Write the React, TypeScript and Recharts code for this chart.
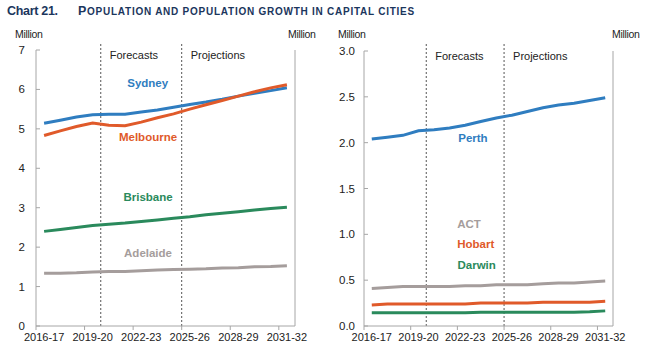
import React from 'react';
import { LineChart, Line, XAxis, YAxis, ReferenceLine, ReferenceDot } from 'recharts';

const periods = ['2016-17','2017-18','2018-19','2019-20','2020-21','2021-22','2022-23','2023-24','2024-25','2025-26','2026-27','2027-28','2028-29','2029-30','2030-31','2031-32'];

const sydney = [5.14, 5.22, 5.30, 5.36, 5.37, 5.37, 5.43, 5.48, 5.55, 5.62, 5.68, 5.75, 5.83, 5.90, 5.97, 6.04];
const melbourne = [4.83, 4.95, 5.06, 5.15, 5.09, 5.08, 5.17, 5.28, 5.38, 5.50, 5.61, 5.72, 5.83, 5.94, 6.04, 6.12];
const brisbane = [2.40, 2.45, 2.50, 2.55, 2.58, 2.61, 2.65, 2.69, 2.73, 2.77, 2.82, 2.86, 2.90, 2.94, 2.98, 3.01];
const adelaide = [1.34, 1.34, 1.35, 1.37, 1.38, 1.38, 1.40, 1.42, 1.43, 1.44, 1.45, 1.47, 1.48, 1.50, 1.51, 1.53];

const perth = [2.04, 2.06, 2.08, 2.13, 2.14, 2.16, 2.19, 2.23, 2.27, 2.30, 2.34, 2.38, 2.41, 2.43, 2.46, 2.49];
const act = [0.41, 0.42, 0.43, 0.43, 0.43, 0.43, 0.44, 0.44, 0.45, 0.45, 0.45, 0.46, 0.47, 0.47, 0.48, 0.49];
const hobart = [0.23, 0.24, 0.24, 0.24, 0.24, 0.24, 0.24, 0.25, 0.25, 0.25, 0.25, 0.26, 0.26, 0.26, 0.26, 0.27];
const darwin = [0.145, 0.145, 0.145, 0.145, 0.145, 0.145, 0.145, 0.15, 0.15, 0.15, 0.15, 0.15, 0.15, 0.15, 0.155, 0.165];

const leftTicks = [0, 1, 2, 3, 4, 5, 6, 7];
const rightTicks = [0, 0.5, 1, 1.5, 2, 2.5, 3];
const xLabelIdx = [0, 3, 6, 9, 12, 15];
const forecastStart = 3.5;
const projectionStart = 8.5;

const titleText = 'POPULATION AND POPULATION GROWTH IN CAPITAL CITIES';

const leftLabels = [
  { name: 'Sydney', x: 6.4, y: 6.16, key: 'sydney' },
  { name: 'Melbourne', x: 6.42, y: 4.79, key: 'melbourne' },
  { name: 'Brisbane', x: 6.42, y: 3.27, key: 'brisbane' },
  { name: 'Adelaide', x: 6.42, y: 1.86, key: 'adelaide' },
];
const rightLabels = [
  { name: 'Perth', x: 6.5, y: 2.05, key: 'perth' },
  { name: 'ACT', x: 6.25, y: 1.11, key: 'act' },
  { name: 'Hobart', x: 6.68, y: 0.89, key: 'hobart' },
  { name: 'Darwin', x: 6.74, y: 0.67, key: 'darwin' },
];

const COLORS: Record<string, string> = {
  sydney: '#2f7dc0',
  melbourne: '#e05a2a',
  brisbane: '#2a8a5c',
  adelaide: '#a59d9c',
  perth: '#2f7dc0',
  act: '#a59d9c',
  hobart: '#e05a2a',
  darwin: '#2a8a5c',
};

const leftData = periods.map((p, i) => ({ i, period: p, sydney: sydney[i], melbourne: melbourne[i], brisbane: brisbane[i], adelaide: adelaide[i] }));
const rightData = periods.map((p, i) => ({ i, period: p, perth: perth[i], act: act[i], hobart: hobart[i], darwin: darwin[i] }));

const FONT = '"Liberation Sans", Arial, sans-serif';
const AXIS = '#a6a6a6';
const TEXT = '#222';

const makeXTick = (half: number) => (props: any) => {
  const { x, y, payload } = props;
  return (
    <g>
      <line x1={x - half} x2={x - half} y1={y} y2={y + 4} stroke={AXIS} />
      <text x={x} y={y + 15} textAnchor="middle" fontSize={11} fontFamily={FONT} fill={TEXT}>{periods[payload.value]}</text>
    </g>
  );
};

const makeYTickLeft = (gap: number, fmt: (v: number) => string) => (props: any) => {
  const { x, y, payload } = props;
  return (
    <g>
      <line x1={x} x2={x + 4} y1={y} y2={y} stroke={AXIS} />
      <text x={x - gap} y={y} dy="0.35em" textAnchor="end" fontSize={11.5} fontFamily={FONT} fill={TEXT}>{fmt(payload.value)}</text>
    </g>
  );
};

const makeYTickRight = (gap: number, fmt: (v: number) => string) => (props: any) => {
  const { x, y, payload } = props;
  return (
    <g>
      <line x1={x - 4} x2={x} y1={y} y2={y} stroke={AXIS} />
      <text x={x + gap} y={y} dy="0.35em" textAnchor="start" fontSize={11.5} fontFamily={FONT} fill={TEXT}>{fmt(payload.value)}</text>
    </g>
  );
};

const phaseLabel = (text: string) => (props: any) => {
  const vb = props.viewBox || {};
  return (
    <text x={vb.x + 9} y={vb.y + 9} fontSize={11} fontFamily={FONT} fill={TEXT}>{text}</text>
  );
};

const fmtInt = (v: number) => String(v);
const fmt1 = (v: number) => v.toFixed(1);

const Panel = ({ data, keys, labels, yMax, ticks, fmt, leftW, rightW, top, half, gapL, gapR, dashTop }: any) => (
  <LineChart width={330} height={354} data={data} margin={{ top, right: 0, bottom: 0, left: 0 }}>
    <XAxis
      dataKey="i"
      type="number"
      domain={[-0.5, 15.5]}
      ticks={xLabelIdx}
      interval={0}
      tickLine={false}
      tickSize={0}
      tickMargin={0}
      height={28}
      stroke={AXIS}
      tick={makeXTick(half)}
    />
    <YAxis
      yAxisId="l"
      orientation="left"
      domain={[0, yMax]}
      ticks={ticks}
      interval={0}
      width={leftW}
      tickLine={false}
      tickSize={0}
      tickMargin={0}
      stroke={AXIS}
      tick={makeYTickLeft(gapL, fmt)}
    />
    <YAxis
      yAxisId="r"
      orientation="right"
      domain={[0, yMax]}
      ticks={ticks}
      interval={0}
      width={rightW}
      tickLine={false}
      tickSize={0}
      tickMargin={0}
      stroke={AXIS}
      tick={makeYTickRight(gapR, fmt)}
    />
    <ReferenceLine
      yAxisId="l"
      segment={[{ x: forecastStart, y: 0 }, { x: forecastStart, y: dashTop }]}
      ifOverflow="visible"
      stroke="#555"
      strokeDasharray="2 2"
    />
    <ReferenceLine
      yAxisId="l"
      segment={[{ x: projectionStart, y: 0 }, { x: projectionStart, y: dashTop }]}
      ifOverflow="visible"
      stroke="#555"
      strokeDasharray="2 2"
    />
    {keys.map((k: string) => (
      <Line
        key={k}
        yAxisId="l"
        type="linear"
        dataKey={k}
        stroke={COLORS[k]}
        strokeWidth={3}
        dot={false}
        activeDot={false}
        isAnimationActive={false}
      />
    ))}
    <ReferenceDot yAxisId="l" x={forecastStart} y={yMax} r={0} stroke="none" fill="none" label={phaseLabel('Forecasts')} />
    <ReferenceDot yAxisId="l" x={projectionStart} y={yMax} r={0} stroke="none" fill="none" label={phaseLabel('Projections')} />
    {labels.map((l: any) => (
      <ReferenceDot
        key={l.name}
        yAxisId="l"
        x={l.x}
        y={l.y}
        r={0}
        stroke="none"
        fill="none"
        label={{ value: l.name, position: 'center', fill: COLORS[l.key], fontSize: 11.5, fontWeight: 'bold', fontFamily: FONT }}
      />
    ))}
  </LineChart>
);

const unitStyle: React.CSSProperties = {
  position: 'absolute',
  top: 27,
  fontSize: 10.5,
  fontFamily: FONT,
  color: TEXT,
  letterSpacing: '-0.3px',
  lineHeight: '14px',
};

export default function App() {
  return (
    <div style={{ position: 'absolute', left: 0, top: 0, width: 660, height: 354, background: '#fff', overflow: 'hidden' }}>
      <div style={{ position: 'absolute', left: 7, top: 3, fontFamily: FONT, fontWeight: 'bold', fontSize: 12.5, color: '#1b365d', whiteSpace: 'nowrap', lineHeight: '16px' }}>
        <span style={{ letterSpacing: '-0.3px' }}>Chart 21.</span>
        <span style={{ position: 'absolute', left: 71, letterSpacing: '0.75px' }}>
          <span style={{ fontSize: 12.5 }}>{titleText[0]}</span>
          <span style={{ fontSize: 10 }}>{titleText.slice(1)}</span>
        </span>
      </div>
      <div style={{ ...unitStyle, left: 15 }}>Million</div>
      <div style={{ ...unitStyle, left: 288 }}>Million</div>
      <div style={{ ...unitStyle, left: 338 }}>Million</div>
      <div style={{ ...unitStyle, left: 612 }}>Million</div>
      <div style={{ position: 'absolute', left: 0, top: 0 }}>
        <Panel data={leftData} keys={['sydney', 'melbourne', 'brisbane', 'adelaide']} labels={leftLabels} yMax={7} ticks={leftTicks} fmt={fmtInt} leftW={36} rightW={35} top={50} half={259 / 32} gapL={11} gapR={12} dashTop={7.2} />
      </div>
      <div style={{ position: 'absolute', left: 330, top: 0 }}>
        <Panel data={rightData} keys={['perth', 'act', 'hobart', 'darwin']} labels={rightLabels} yMax={3} ticks={rightTicks} fmt={fmt1} leftW={34} rightW={47} top={51} half={249 / 32} gapL={9} gapR={10.5} dashTop={3.09} />
      </div>
    </div>
  );
}
